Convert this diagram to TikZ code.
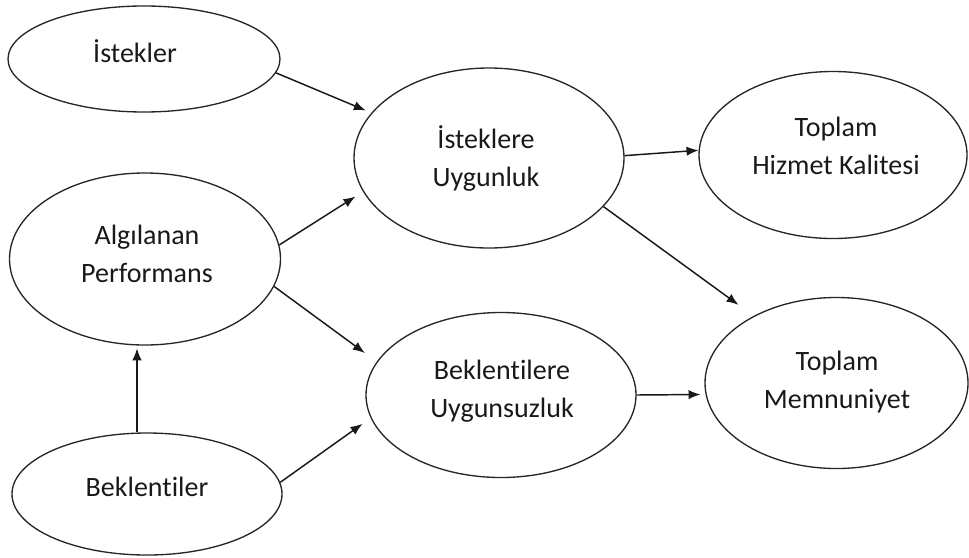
\documentclass[tikz,border=0pt]{standalone}
\usepackage{fontspec}
\setmainfont[Ligatures=NoCommon]{Carlito}
\usetikzlibrary{arrows.meta,shapes.geometric}
\begin{document}
\begin{tikzpicture}[x=0.75pt,y=-0.75pt,
  oval/.style={ellipse, draw=black!85, line width=1pt, inner sep=0pt},
  lbl/.style={align=center, text=black!90, font=\fontsize{21}{28}\selectfont, inner sep=0pt, anchor=base},
  arr/.style={-{Latex[length=9pt,width=7pt]}, line width=1.1pt, draw=black!90}]
\useasboundingbox (0,0) rectangle (969,557);

% constructs
\node[oval, minimum width=204pt,    minimum height=79.5pt]  (A) at (144,59)    {};
\node[oval, minimum width=202.5pt,  minimum height=135pt]   (B) at (489,158)   {};
\node[oval, minimum width=201pt,    minimum height=125.25pt](C) at (833,155)   {};
\node[oval, minimum width=203.25pt, minimum height=129pt]   (D) at (145,259)   {};
\node[oval, minimum width=202.5pt,  minimum height=123.75pt](E) at (501,395)   {};
\node[oval, minimum width=202.5pt,  minimum height=91.5pt]  (F) at (147,494)   {};
\node[oval, minimum width=197.25pt, minimum height=128.25pt](G) at (836.5,383) {};

% labels (base anchor sits on the last line)
\node[lbl] (tA) at (135,62)  {İstekler};
\node[lbl] (tB) at (486,186) {İsteklere\\Uygunluk};
\node[lbl] (tC) at (836,174) {Toplam\\Hizmet Kalitesi};
\node[lbl] (tD) at (147,282) {Algılanan\\Performans};
\node[lbl] (tE) at (502,417) {Beklentilere\\Uygunsuzluk};
\node[lbl] (tF) at (147,496) {Beklentiler};
\node[lbl] (tG) at (837,408) {Toplam\\Memnuniyet};

% relations
\draw[arr, shorten >=4.5pt]  (A.-6.9)  -- (B.159.6);
\draw[arr, shorten >=6.75pt] (D.6.8)   -- (B.195.4);
\draw[arr, shorten >=11pt]   (D.-12.1) -- (E.165.1);
\draw[arr, shorten >=2pt]    ([xshift=-7.5pt]F.north) -- ([xshift=-6pt]D.south);
\draw[arr, shorten >=7.5pt]  (F.5.6)   -- (E.190.2);
\draw[arr]                   (B.1.7)   -- (C.178.7);
\draw[arr, shorten >=14pt]   (B.-23.4) -- (G.141.8);
\draw[arr, shorten >=3.75pt] (E.-0.9)  -- (G.185.9);
\end{tikzpicture}
\end{document}
